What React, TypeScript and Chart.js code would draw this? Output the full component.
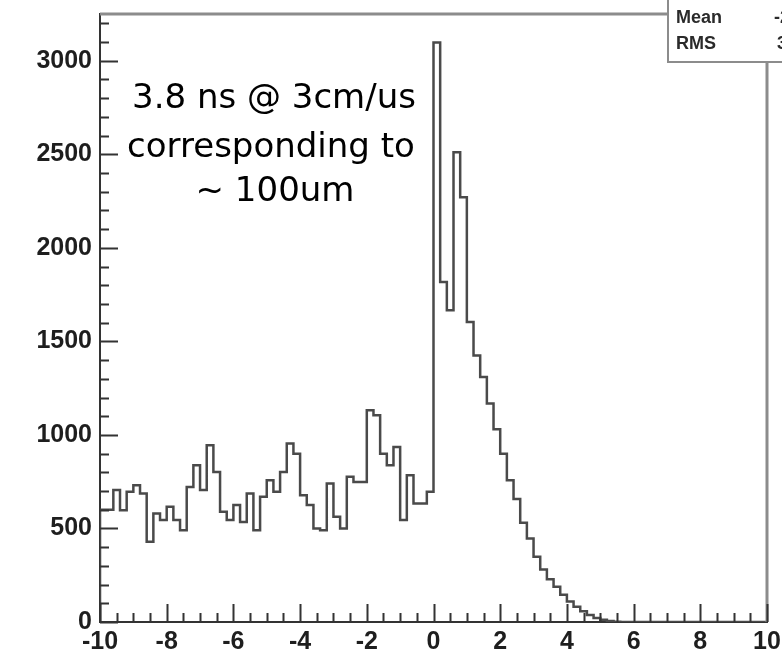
import React, { useEffect, useRef } from "react";
import { Chart, registerables } from "chart.js";

Chart.register(...registerables);

// Histogram: 100 bins of width 0.2 from -10 to 10 (left edges)
const xMin = -10;
const xMax = 10;
const binWidth = 0.2;
const binValues = [
  600, 600, 705, 598, 696, 731, 687, 429, 580, 545,
  616, 545, 491, 722, 838, 705, 945, 802, 589, 545,
  625, 535, 687, 491, 669, 758, 696, 802, 954, 900,
  678, 625, 500, 491, 740, 562, 500, 776, 749, 749,
  1132, 1105, 900, 838, 936, 545, 785, 634, 634, 696,
  3098, 1817, 1666, 2511, 2271, 1603, 1425, 1310, 1168, 1030,
  900, 758, 658, 530, 447, 349, 280, 228, 188, 146,
  110, 82, 57, 38, 22, 12, 6, 2, 0, 0,
  0, 0, 0, 0, 0, 0, 0, 0, 0, 0,
  0, 0, 0, 0, 0, 0, 0, 0, 0, 0,
];
const yMax = 3250;
const xTickValues = [-10, -8, -6, -4, -2, 0, 2, 4, 6, 8, 10];
const xTickLabels = ["-10", "-8", "-6", "-4", "-2", "0", "2", "4", "6", "8", "10"];
const yTickValues = [0, 500, 1000, 1500, 2000, 2500, 3000];
const yTickLabels = ["0", "500", "1000", "1500", "2000", "2500", "3000"];
const annotationLines = ["3.8 ns @ 3cm/us", "corresponding to", "~ 100um"];
const statLabels = ["Mean", "RMS"];
const statValues = ["-2", "3"];

const W = 782;
const H = 652;

const framePlugin = {
  id: "rootFrame",
  afterDraw(chart: any) {
    const { ctx, chartArea: a, scales } = chart;
    const x = scales.x;
    const y = scales.y;
    ctx.save();
    // top & right frame
    ctx.strokeStyle = "#8c8c8c";
    ctx.lineWidth = 3;
    ctx.beginPath();
    ctx.moveTo(a.left, a.top);
    ctx.lineTo(a.right, a.top);
    ctx.lineTo(a.right, a.bottom);
    ctx.stroke();

    // inward ticks
    ctx.strokeStyle = "#333";
    ctx.lineWidth = 2;
    ctx.beginPath();
    for (let i = 0; i <= 40; i++) {
      const v = xMin + i * 0.5;
      const px = Math.round(x.getPixelForValue(v)) + 0.5;
      const len = i % 4 === 0 ? 18 : 9;
      ctx.moveTo(px, a.bottom);
      ctx.lineTo(px, a.bottom - len);
    }
    for (let v = 0; v <= yMax; v += 100) {
      const py = Math.round(y.getPixelForValue(v)) + 0.5;
      const len = v % 500 === 0 ? 18 : 9;
      ctx.moveTo(a.left, py);
      ctx.lineTo(a.left + len, py);
    }
    ctx.stroke();

    // stats box
    const bx = 668;
    const by = 62;
    ctx.fillStyle = "#fff";
    ctx.fillRect(bx, -5, W, by + 5);
    ctx.strokeStyle = "#8c8c8c";
    ctx.lineWidth = 2;
    ctx.beginPath();
    ctx.moveTo(bx, -5);
    ctx.lineTo(bx, by);
    ctx.lineTo(W + 5, by);
    ctx.stroke();
    ctx.fillStyle = "#2a2a2a";
    ctx.font = "bold 18px 'Liberation Sans', Arial, sans-serif";
    ctx.textBaseline = "middle";
    ctx.textAlign = "left";
    ctx.fillText(statLabels[0], 676, 18);
    ctx.fillText(statLabels[1], 676, 44);
    ctx.fillText(statValues[0], 774, 18);
    ctx.fillText(statValues[1], 777, 44);

    // annotation
    ctx.fillStyle = "#000";
    ctx.font = "34px 'DejaVu Sans', sans-serif";
    ctx.textAlign = "center";
    ctx.textBaseline = "alphabetic";
    ctx.fillText(annotationLines[0], 274, 108);
    ctx.fillText(annotationLines[1], 271, 157);
    ctx.fillText(annotationLines[2], 275, 201);
    ctx.restore();
  },
};

const tickFont = { family: "'Liberation Sans', Arial, sans-serif", size: 25, weight: "bold" as const };

export default function App() {
  const ref = useRef<HTMLCanvasElement | null>(null);
  useEffect(() => {
    if (!ref.current) return;
    const pts: { x: number; y: number }[] = [{ x: xMin, y: 0 }];
    binValues.forEach((v, i) => pts.push({ x: xMin + i * binWidth, y: v }));
    pts.push({ x: xMax, y: binValues[binValues.length - 1] });

    const chart = new Chart(ref.current, {
      type: "line",
      data: {
        datasets: [
          {
            data: pts,
            stepped: "before",
            borderColor: "#4a4a4a",
            borderWidth: 2.5,
            pointRadius: 0,
            fill: false,
          },
        ],
      },
      options: {
        responsive: false,
        animation: false,
        events: [],
        layout: { padding: { top: 14, right: 15, left: 0, bottom: 0 } },
        plugins: { legend: { display: false }, tooltip: { enabled: false } },
        scales: {
          x: {
            type: "linear",
            min: xMin,
            max: xMax,
            grid: { display: true, drawOnChartArea: false, drawTicks: false },
            border: { display: true, color: "#333", width: 2 },
            afterBuildTicks: (s: any) => {
              s.ticks = xTickValues.map((v) => ({ value: v }));
            },
            ticks: {
              autoSkip: false,
              source: "data",
              maxRotation: 0,
              padding: 5,
              color: "#1e1e1e",
              font: tickFont,
              callback: (v: any) => {
                const i = xTickValues.indexOf(Math.round(Number(v)));
                return i >= 0 ? xTickLabels[i] : "";
              },
            },
            afterFit: (s: any) => {
              s.height = 30;
              s.paddingLeft = 0;
              s.paddingRight = 0;
            },
          },
          y: {
            type: "linear",
            min: 0,
            max: yMax,
            grid: { display: true, drawOnChartArea: false, drawTicks: false },
            border: { display: true, color: "#333", width: 2 },
            afterBuildTicks: (s: any) => {
              s.ticks = yTickValues.map((v) => ({ value: v }));
            },
            ticks: {
              autoSkip: false,
              source: "data",
              padding: 8,
              color: "#1e1e1e",
              font: tickFont,
              callback: (v: any) => {
                const i = yTickValues.indexOf(Math.round(Number(v)));
                return i >= 0 ? yTickLabels[i] : "";
              },
            },
            afterFit: (s: any) => {
              s.width = 100;
              s.paddingTop = 0;
              s.paddingBottom = 0;
            },
          },
        },
      },
      plugins: [framePlugin],
    });
    return () => chart.destroy();
  }, []);

  return (
    <div style={{ position: "fixed", left: 0, top: 0, width: W, height: H, background: "#fff" }}>
      <canvas ref={ref} width={W} height={H} style={{ width: W, height: H, display: "block" }} />
    </div>
  );
}
